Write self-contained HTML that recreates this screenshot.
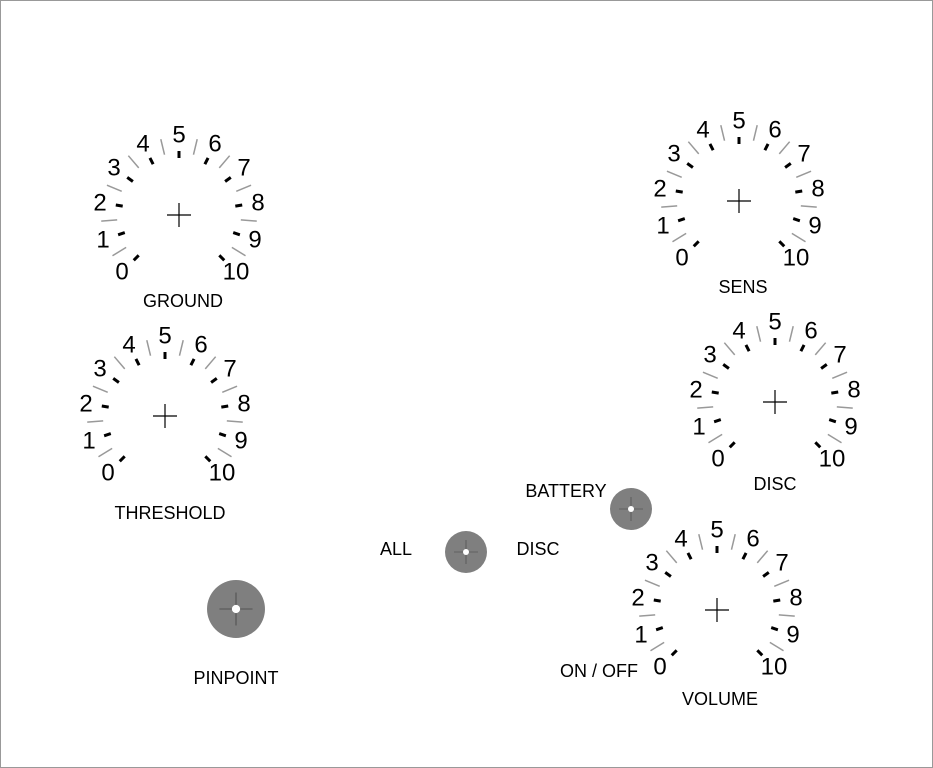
<!DOCTYPE html>
<html><head><meta charset="utf-8"><style>
html,body{margin:0;padding:0;background:#fff}
svg{display:block}
text{font-family:"Liberation Sans",Arial,sans-serif;fill:#000}
.n{font-size:24px;text-anchor:middle;dominant-baseline:central}
.l{font-size:18px;text-anchor:middle;dominant-baseline:central}
</style></head><body>
<svg width="933" height="768" viewBox="0 0 933 768" xmlns="http://www.w3.org/2000/svg">
<rect x="0.5" y="0.5" width="932" height="767" fill="#fff" stroke="#999" stroke-width="1"/>
<defs>
<g id="dial">
 <g stroke="#000" stroke-width="3">
  <line x1="0" y1="-57" x2="0" y2="-64" transform="rotate(-135)"/>
  <line x1="0" y1="-57" x2="0" y2="-64" transform="rotate(-108)"/>
  <line x1="0" y1="-57" x2="0" y2="-64" transform="rotate(-81)"/>
  <line x1="0" y1="-57" x2="0" y2="-64" transform="rotate(-54)"/>
  <line x1="0" y1="-57" x2="0" y2="-64" transform="rotate(-27)"/>
  <line x1="0" y1="-57" x2="0" y2="-64"/>
  <line x1="0" y1="-57" x2="0" y2="-64" transform="rotate(27)"/>
  <line x1="0" y1="-57" x2="0" y2="-64" transform="rotate(54)"/>
  <line x1="0" y1="-57" x2="0" y2="-64" transform="rotate(81)"/>
  <line x1="0" y1="-57" x2="0" y2="-64" transform="rotate(108)"/>
  <line x1="0" y1="-57" x2="0" y2="-64" transform="rotate(135)"/>
 </g>
 <g stroke="#999" stroke-width="1.5">
  <line x1="0" y1="-62" x2="0" y2="-78" transform="rotate(-121.5)"/>
  <line x1="0" y1="-62" x2="0" y2="-78" transform="rotate(-94.5)"/>
  <line x1="0" y1="-62" x2="0" y2="-78" transform="rotate(-67.5)"/>
  <line x1="0" y1="-62" x2="0" y2="-78" transform="rotate(-40.5)"/>
  <line x1="0" y1="-62" x2="0" y2="-78" transform="rotate(-13.5)"/>
  <line x1="0" y1="-62" x2="0" y2="-78" transform="rotate(13.5)"/>
  <line x1="0" y1="-62" x2="0" y2="-78" transform="rotate(40.5)"/>
  <line x1="0" y1="-62" x2="0" y2="-78" transform="rotate(67.5)"/>
  <line x1="0" y1="-62" x2="0" y2="-78" transform="rotate(94.5)"/>
  <line x1="0" y1="-62" x2="0" y2="-78" transform="rotate(121.5)"/>
 </g>
 <g stroke="#000" stroke-width="1.2">
  <line x1="-12" y1="0" x2="12" y2="0"/><line x1="0" y1="-12" x2="0" y2="12"/>
 </g>
</g>
<g id="knob">
 <circle r="21" fill="#7f7f7f"/>
 <line x1="-12" y1="0" x2="12" y2="0" stroke="#444" stroke-width="0.6"/>
 <line x1="0" y1="-12" x2="0" y2="12" stroke="#444" stroke-width="0.6"/>
 <circle r="3" fill="#fff"/>
</g>
</defs>

<g transform="translate(179,215)">
<use href="#dial"/>
<text class="n" x="-57" y="57">0</text><text class="n" x="-76" y="25">1</text><text class="n" x="-79" y="-12">2</text><text class="n" x="-65" y="-47">3</text><text class="n" x="-36" y="-71">4</text><text class="n" x="0" y="-80">5</text><text class="n" x="36" y="-71">6</text><text class="n" x="65" y="-47">7</text><text class="n" x="79" y="-12">8</text><text class="n" x="76" y="25">9</text><text class="n" x="57" y="57">10</text>
</g>
<text class="l" x="183" y="301">GROUND</text>

<g transform="translate(165,416)">
<use href="#dial"/>
<text class="n" x="-57" y="57">0</text><text class="n" x="-76" y="25">1</text><text class="n" x="-79" y="-12">2</text><text class="n" x="-65" y="-47">3</text><text class="n" x="-36" y="-71">4</text><text class="n" x="0" y="-80">5</text><text class="n" x="36" y="-71">6</text><text class="n" x="65" y="-47">7</text><text class="n" x="79" y="-12">8</text><text class="n" x="76" y="25">9</text><text class="n" x="57" y="57">10</text>
</g>
<text class="l" x="170" y="513">THRESHOLD</text>

<g transform="translate(739,201)">
<use href="#dial"/>
<text class="n" x="-57" y="57">0</text><text class="n" x="-76" y="25">1</text><text class="n" x="-79" y="-12">2</text><text class="n" x="-65" y="-47">3</text><text class="n" x="-36" y="-71">4</text><text class="n" x="0" y="-80">5</text><text class="n" x="36" y="-71">6</text><text class="n" x="65" y="-47">7</text><text class="n" x="79" y="-12">8</text><text class="n" x="76" y="25">9</text><text class="n" x="57" y="57">10</text>
</g>
<text class="l" x="743" y="287">SENS</text>

<g transform="translate(775,402)">
<use href="#dial"/>
<text class="n" x="-57" y="57">0</text><text class="n" x="-76" y="25">1</text><text class="n" x="-79" y="-12">2</text><text class="n" x="-65" y="-47">3</text><text class="n" x="-36" y="-71">4</text><text class="n" x="0" y="-80">5</text><text class="n" x="36" y="-71">6</text><text class="n" x="65" y="-47">7</text><text class="n" x="79" y="-12">8</text><text class="n" x="76" y="25">9</text><text class="n" x="57" y="57">10</text>
</g>
<text class="l" x="775" y="484">DISC</text>

<g transform="translate(717,610)">
<use href="#dial"/>
<text class="n" x="-57" y="57">0</text><text class="n" x="-76" y="25">1</text><text class="n" x="-79" y="-12">2</text><text class="n" x="-65" y="-47">3</text><text class="n" x="-36" y="-71">4</text><text class="n" x="0" y="-80">5</text><text class="n" x="36" y="-71">6</text><text class="n" x="65" y="-47">7</text><text class="n" x="79" y="-12">8</text><text class="n" x="76" y="25">9</text><text class="n" x="57" y="57">10</text>
</g>
<text class="l" x="720" y="699">VOLUME</text>
<text class="l" x="599" y="671">ON / OFF</text>

<use href="#knob" transform="translate(631,509)"/>
<text class="l" x="566" y="491">BATTERY</text>
<use href="#knob" transform="translate(466,552)"/>
<text class="l" x="396" y="549">ALL</text>
<text class="l" x="538" y="549">DISC</text>
<use href="#knob" transform="translate(236,609) scale(1.38)"/>
<text class="l" x="236" y="678">PINPOINT</text>
</svg>
</body></html>
